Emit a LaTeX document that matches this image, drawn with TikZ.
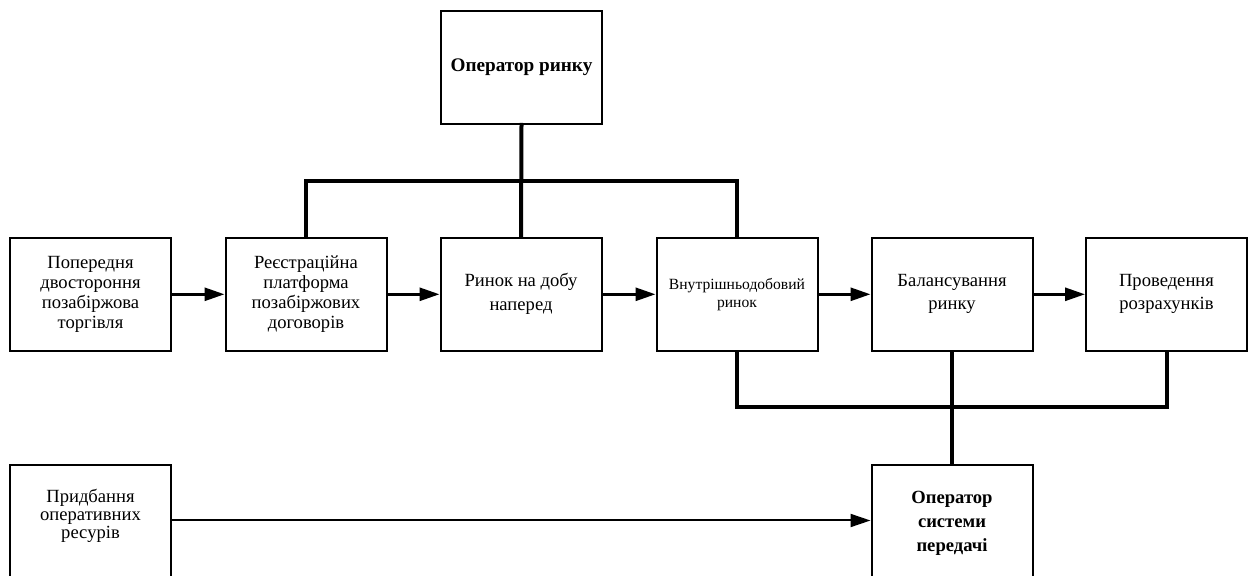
\documentclass[tikz,border=0pt]{standalone}
\usepackage{fontspec}
\setmainfont{Liberation Serif}
\usetikzlibrary{arrows.meta}
\begin{document}
\begin{tikzpicture}[x=0.5pt,y=-0.5pt,
  box/.style={draw=black, line width=1pt, fill=white, minimum width=80.5pt, minimum height=56.7pt, inner sep=0pt, align=center, font=\fontsize{9.3}{10}\selectfont},
  frame/.style={draw=black, line width=1pt, minimum width=80.5pt, minimum height=70pt, inner sep=0pt},
  txt/.style={align=center, inner sep=0pt},
  bus/.style={line width=2pt, line cap=rect},
  flow/.style={line width=1.4pt, -{Triangle[length=10pt,width=6.5pt]}},
  thinflow/.style={line width=1pt, -{Triangle[length=10pt,width=6.5pt]}}]
\useasboundingbox (0,0) rectangle (1248,576);
\clip (0,0) rectangle (1248,576);
% top operator
\node[box, minimum height=56.5pt, font=\fontsize{9.6}{11}\selectfont\bfseries] (op) at (521.5,67.5) {Оператор ринку};
% main row
\node[box] (b1) at (90.5,294.3) {Попередня\\двостороння\\позабіржова\\торгівля};
\node[box] (b2) at (306,294.3) {Реєстраційна\\платформа\\позабіржових\\договорів};
\node[box, font=\fontsize{9.3}{12}\selectfont] (b3) at (521,294.3) {Ринок на добу\\наперед};
\node[box, font=\fontsize{7.8}{9}\selectfont] (b4) at (737,294.3) {Внутрішньодобовий\\ринок};
\node[box, font=\fontsize{9.3}{11.5}\selectfont] (b5) at (952,294.3) {Балансування\\ринку};
\node[box, font=\fontsize{9.3}{11.5}\selectfont] (b6) at (1166.5,294.3) {Проведення\\розрахунків};
% bottom row frames (cut off by the page edge)
\node[frame, anchor=north] (b7) at (90.5,464) {};
\node[frame, anchor=north] (b8) at (952,464) {};
\node[txt, font=\fontsize{9.3}{9}\selectfont] (t7) at (90.5,516) {Придбання\\оперативних\\ресурів};
\node[txt, font=\fontsize{9.3}{12}\selectfont\bfseries] (t8) at (952,523) {Оператор\\системи\\передачі};
% arrows along the row
\draw[flow] (b1) -- (b2);
\draw[flow] (b2) -- (b3);
\draw[flow] (b3) -- (b4);
\draw[flow] (b4) -- (b5);
\draw[flow] (b5) -- (b6);
% top bus
\coordinate (tj) at (521,181.5);
\draw[bus] (op.south) -- (b3.north);
\draw[bus] (b2.north) |- (tj) -| (b4.north);
% bottom bus
\coordinate (bj) at (952,407);
\draw[bus] (b4.south) |- (bj) -| (b6.south);
\draw[bus] (b5.south) -- (b8.north);
% bottom arrow
\coordinate (a7) at (171.5,520.5);
\draw[thinflow] (a7) -- (a7 -| b8.west);
\end{tikzpicture}
\end{document}
